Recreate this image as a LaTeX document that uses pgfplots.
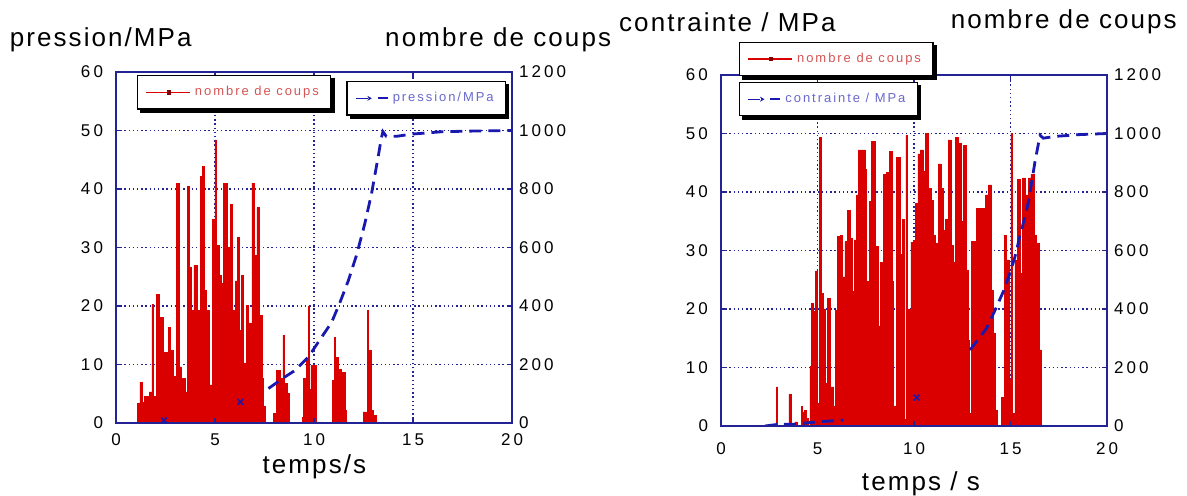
\documentclass[border=0pt]{standalone}
\usepackage{pgfplots}
\pgfplotsset{compat=1.18}
\usepackage{fontspec}
\setmainfont{Liberation Sans}
\newfontfamily\ticksf[LetterSpace=18]{Liberation Sans}
\newfontfamily\titlesf[LetterSpace=8]{Liberation Sans}
\newfontfamily\legsf[LetterSpace=15]{Liberation Sans}
\usetikzlibrary{arrows.meta}

\definecolor{redc}{RGB}{218,0,0}
\definecolor{navyc}{RGB}{35,35,150}
\definecolor{bluec}{RGB}{25,25,175}
\definecolor{legred}{RGB}{212,85,85}
\definecolor{legblue}{RGB}{105,105,205}

\tikzset{
  titlefont/.style={font=\titlesf\fontsize{13bp}{15bp}\selectfont},
  legbox/.style={draw=black, line width=0.6bp, fill=white,
    inner xsep=4bp, inner ysep=3.2bp, anchor=north west},
  gridsty/.style={navyc, line width=0.7bp, dash pattern=on 0.7bp off 1.4bp},
}
\pgfplotsset{
  common/.style={scale only axis, xmin=0, xmax=20, xtick={0,5,...,20},
    tick align=inside, major tick length=2.5bp,
    tick style={navyc, line width=0.6bp},
    axis line style={navyc, line width=0.6bp},
    /pgf/number format/assume math mode=true,
    /pgf/number format/1000 sep={},
    ticklabel style={font=\ticksf\fontsize{8.5bp}{10bp}\selectfont, text=black}},
  redleg/.style={legend image code/.code={
     \draw[redc, line width=0.7bp] (0bp,0bp) -- (22bp,0bp);
     \fill[redc!60!black] (10.5bp,-0.8bp) rectangle (12bp,0.8bp);}},
  blueleg/.style={legend image code/.code={
     \draw[bluec, line width=0.7bp, -{Stealth[length=2.2bp,width=2.5bp]}] (0bp,0bp) -- (8bp,0bp);
     \draw[bluec, line width=1bp] (11bp,0bp) -- (16bp,0bp);}},
}

\begin{document}
\begin{tikzpicture}
\path[use as bounding box] (0,0) rectangle (593.5bp,248bp);

% ================= LEFT PLOT =================
\begin{axis}[common, width=198bp, height=175.5bp, at={(58bp,36.5bp)}, anchor=south west,
  ymin=0, ymax=1200, ytick={0,200,...,1200}, yticklabel pos=right,
  xticklabel style={yshift=-2bp},
  grid=major, grid style={gridsty},
  xlabel={temps/s}, xlabel style={titlefont, at={(axis description cs:0.501,-0.125)}, anchor=center},
  ylabel={nombre de coups}, ylabel style={titlefont, rotate=-90, at={(axis description cs:1.268,1.091)}, anchor=east}]
\addplot[draw=none, forget plot] coordinates {(0,0)};
\end{axis}

\begin{axis}[common, width=198bp, height=175.5bp, at={(58bp,36.5bp)}, anchor=south west,
  ymin=0, ymax=60, ytick={0,10,...,60}, yticklabel pos=left, xticklabels={},
  yticklabel style={xshift=-3bp},
  axis on top,
  ylabel={pression/MPa}, ylabel style={titlefont, rotate=-90, at={(axis description cs:-0.286,1.091)}, anchor=west},
  legend style={legbox, name=legB, at={(0.582,0.974)}, font=\legsf\fontsize{6.5bp}{7bp}\selectfont, text=legblue}]
\addplot[const plot, fill=redc, draw=redc, line width=0.3bp, forget plot] coordinates {
(1.089,3.3)(1.206,7.0)(1.340,3.5)(1.424,4.5)(1.675,5.3)(1.809,20.3)(1.876,4.5)(2.044,22.0)
(2.211,18.1)(2.379,12.1)(2.630,16.4)(2.764,12.4)(2.881,7.9)(3.049,41.0)(3.216,9.6)(3.317,7.6)
(3.484,5.3)(3.601,40.4)(3.719,26.6)(3.819,19.2)(3.936,26.9)(4.104,19.2)(4.271,42.2)(4.355,43.9)
(4.472,22.6)(4.573,19.2)(4.690,6.5)(4.858,34.8)(4.992,48.4)(5.059,30.3)(5.193,25.2)(5.327,23.8)
(5.444,41.0)(5.611,30.0)(5.779,37.4)(5.896,19.2)(6.030,24.3)(6.114,31.7)(6.231,15.8)(6.332,25.2)
(6.449,10.2)(6.566,20.1)(6.700,17.0)(6.868,41.0)(6.985,28.6)(7.119,36.8)(7.236,18.4)(7.370,7.6)
(7.454,2.8)(7.538,0)
(7.96,1.7)(8.12,9.0)(8.29,7.6)(8.43,15.0)(8.51,6.8)(8.63,5.1)(8.74,0)
(9.40,1.0)(9.46,7.6)(9.63,10.8)(9.72,20.0)(9.78,5.7)(9.84,9.9)(10.10,0)
(10.92,7.3)(11.03,14.6)(11.09,11.2)(11.22,9.2)(11.39,8.7)(11.56,2.2)(11.64,0)
(12.48,1.9)(12.68,19.3)(12.76,12.4)(12.90,2.2)(12.98,1.3)(13.15,0)
} \closedcycle;
\addplot[bluec, line width=1.4bp, dash pattern=on 6bp off 3.5bp, blueleg] coordinates {
(7.70,5.9)(8.54,7.9)(9.05,9.0)(9.72,11.3)(10.39,14.7)(10.89,17.2)(11.31,20.6)(11.73,24.3)
(12.14,28.6)(12.56,34.0)(12.90,39.1)(13.23,45.3)(13.40,48.7)(13.48,49.8)(13.65,49.0)(14.15,49.0)
(15.0,49.4)(16.5,49.8)(18.0,49.9)(20.0,50.0)};
\addlegendentry{pression/MPa}
\addplot[only marks, mark=x, mark size=2bp, bluec, line width=0.8bp, forget plot] coordinates {(2.43,0.45)(6.28,3.6)};
\end{axis}

\begin{axis}[common, width=198bp, height=175.5bp, at={(58bp,36.5bp)}, anchor=south west,
  ymin=0, ymax=60, hide axis,
  legend style={legbox, name=legA, at={(0.053,0.991)}, font=\legsf\fontsize{6.5bp}{7bp}\selectfont, text=legred}]
\addplot[draw=none, forget plot] coordinates {(0,0)};
\addlegendimage{redleg}
\addlegendentry{nombre de coups}
\end{axis}

% ================= RIGHT PLOT =================
\begin{axis}[common, width=193bp, height=175.5bp, at={(360.5bp,35bp)}, anchor=south west,
  ymin=0, ymax=1200, ytick={0,200,...,1200}, yticklabel pos=right,
  xticklabel style={yshift=-5bp},
  grid=major, grid style={gridsty},
  xlabel={temps / s}, xlabel style={titlefont, at={(axis description cs:0.518,-0.165)}, anchor=center},
  ylabel={nombre de coups}, ylabel style={titlefont, rotate=-90, at={(axis description cs:1.199,1.151)}, anchor=east}]
\addplot[draw=none, forget plot] coordinates {(0,0)};
\end{axis}

\begin{axis}[common, width=193bp, height=175.5bp, at={(360.5bp,35bp)}, anchor=south west,
  ymin=0, ymax=60, ytick={0,10,...,60}, yticklabel pos=left, xticklabels={},
  yticklabel style={xshift=-3bp},
  axis on top,
  ylabel={contrainte / MPa}, ylabel style={titlefont, rotate=-90, at={(axis description cs:-0.282,1.151)}, anchor=west},
  legend style={legbox, name=legD, at={(0.047,0.980)}, font=\legsf\fontsize{6.5bp}{7bp}\selectfont, text=legblue}]
\addplot[const plot, fill=redc, draw=redc, line width=0.3bp, forget plot] coordinates {
(2.88,6.7)(2.94,0)(3.52,5.4)(3.66,0)(3.83,0.7)(3.95,0)(4.15,3.4)(4.21,2.4)(4.32,2.7)(4.44,1.3)
(4.52,0)(4.61,10.2)(4.70,21.0)(4.78,19.6)(4.90,26.5)(5.01,3.9)(5.08,49.4)(5.18,22.7)(5.30,20.0)
(5.42,7.3)(5.53,21.8)(5.65,6.7)(5.82,3.3)(5.94,19.8)(6.03,32.4)(6.17,32.6)(6.29,25.5)(6.42,31.5)
(6.56,36.9)(6.68,32.1)(6.80,23.0)(6.91,31.8)(7.03,39.5)(7.12,47.2)(7.29,47.2)(7.46,43.8)
(7.55,24.7)(7.68,38.4)(7.81,48.6)(7.98,30.7)(8.15,17.1)(8.27,27.9)(8.41,43.0)(8.58,43.3)
(8.72,47.0)(8.85,24.7)(8.93,3.4)(9.02,2.3)(9.10,45.9)(9.27,29.4)(9.39,35.3)(9.49,1.1)(9.58,49.7)
(9.66,20.0)(9.79,5.1)(9.84,31.4)(9.96,31.7)(10.08,38.0)(10.20,46.5)(10.32,47.2)(10.48,43.5)
(10.60,50.0)(10.73,40.6)(10.87,38.6)(10.99,32.6)(11.11,31.2)(11.25,44.8)(11.39,40.6)(11.51,33.5)
(11.63,35.3)(11.77,48.9)(11.91,30.9)(12.03,27.9)(12.15,49.4)(12.29,30.9)(12.33,48.3)(12.45,35.0)
(12.56,48.0)(12.70,26.6)(12.80,14.7)(12.87,2.2)(12.98,31.5)(13.16,1.0)(13.24,37.2)(13.42,14.7)
(13.50,37.2)(13.70,39.5)(13.85,41.2)(14.02,23.2)(14.10,15.9)(14.20,2.7)(14.32,0)(14.54,4.9)
(14.68,32.6)(14.80,28.4)(14.94,7.9)(15.02,50.0)(15.09,2.2)(15.23,28.4)(15.37,42.1)(15.49,26.1)
(15.61,42.4)(15.75,39.5)(15.92,42.4)(16.06,43.0)(16.23,32.6)(16.35,31.2)(16.47,13.0)(16.58,0)
} \closedcycle;
\addplot[bluec, line width=1.4bp, dash pattern=on 6bp off 3.5bp, blueleg] coordinates {
(12.90,13.0)(13.16,14.1)(13.76,16.7)(14.20,19.8)(14.63,23.0)(14.97,26.1)(15.23,28.9)(15.46,32.1)
(15.75,35.8)(15.93,38.3)(16.27,45.2)(16.53,49.7)(16.70,49.2)(17.30,49.5)(18.5,49.8)(20.0,50.0)};
\addlegendentry{contrainte / MPa}
\addplot[bluec, line width=1.4bp, dash pattern=on 6bp off 3.5bp, forget plot] coordinates {
(2.28,0)(3.0,0.3)(3.75,0.3)(4.96,0.7)(6.34,1.0)};
\addplot[only marks, mark=x, mark size=2bp, bluec, line width=0.8bp, forget plot] coordinates {(10.14,4.85)};
\end{axis}

\begin{axis}[common, width=193bp, height=175.5bp, at={(360.5bp,35bp)}, anchor=south west,
  ymin=0, ymax=60, hide axis,
  legend style={legbox, name=legC, at={(0.047,1.094)}, font=\legsf\fontsize{6.5bp}{7bp}\selectfont, text=legred}]
\addplot[draw=none, forget plot] coordinates {(0,0)};
\addlegendimage{redleg}
\addlegendentry{nombre de coups}
\end{axis}

% legend box shadows (offset down-right, outside each box)
\foreach \n in {legA,legB,legC,legD}{
  \fill[black] ([xshift=1.6bp]\n.south west) rectangle ([xshift=1.6bp,yshift=-1.6bp]\n.south east);
  \fill[black] ([yshift=-1.6bp]\n.north east) rectangle ([xshift=1.6bp,yshift=-1.6bp]\n.south east);
}
\end{tikzpicture}
\end{document}
